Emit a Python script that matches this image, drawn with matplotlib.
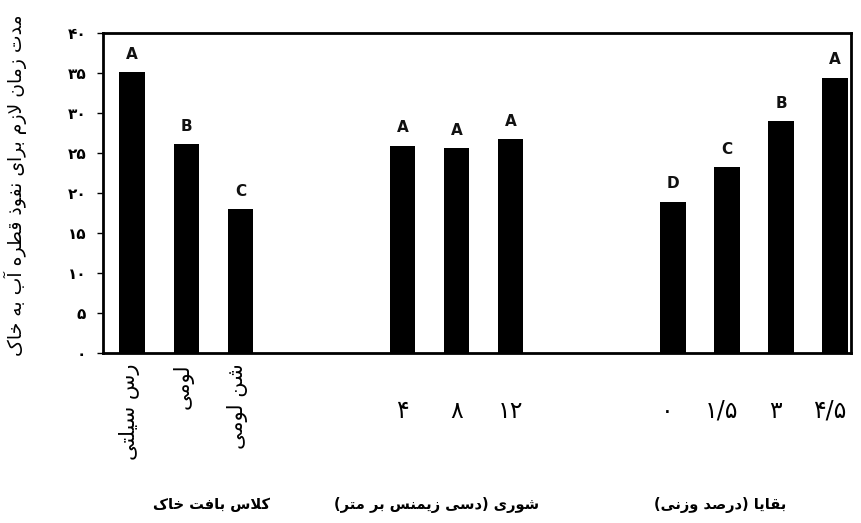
import matplotlib
matplotlib.use("Agg")
import matplotlib.pyplot as plt
import matplotlib.transforms as mtransforms

# ---------------- data ----------------
texture_labels = ["رس سیلتی", "لومی", "شن لومی"]
texture_values = [35.1, 26.1, 18.0]
texture_letters = ["A", "B", "C"]

salinity_labels = ["۴", "۸", "۱۲"]
salinity_values = [25.9, 25.6, 26.7]
salinity_letters = ["A", "A", "A"]

residue_labels = ["۰", "۱/۵", "۳", "۴/۵"]
residue_values = [18.9, 23.2, 29.0, 34.4]
residue_letters = ["D", "C", "B", "A"]

group_titles = ["کلاس بافت خاک", "شوری (دسی زیمنس بر متر)", "بقایا (درصد وزنی)"]
y_label = "مدت زمان لازم برای نفوذ قطره آب به خاک"
y_ticks = [0, 5, 10, 15, 20, 25, 30, 35, 40]

# ---------------- simple Persian shaping ----------------
FORMS = {  # isolated, final, initial, medial
    'ا': ('\uFE8D', '\uFE8E', None, None),
    'آ': ('\uFE81', '\uFE82', None, None),
    'ب': ('\uFE8F', '\uFE90', '\uFE91', '\uFE92'),
    'ت': ('\uFE95', '\uFE96', '\uFE97', '\uFE98'),
    'خ': ('\uFEA5', '\uFEA6', '\uFEA7', '\uFEA8'),
    'د': ('\uFEA9', '\uFEAA', None, None),
    'ذ': ('\uFEAB', '\uFEAC', None, None),
    'ر': ('\uFEAD', '\uFEAE', None, None),
    'ز': ('\uFEAF', '\uFEB0', None, None),
    'س': ('\uFEB1', '\uFEB2', '\uFEB3', '\uFEB4'),
    'ش': ('\uFEB5', '\uFEB6', '\uFEB7', '\uFEB8'),
    'ص': ('\uFEB9', '\uFEBA', '\uFEBB', '\uFEBC'),
    'ط': ('\uFEC1', '\uFEC2', '\uFEC3', '\uFEC4'),
    'ف': ('\uFED1', '\uFED2', '\uFED3', '\uFED4'),
    'ق': ('\uFED5', '\uFED6', '\uFED7', '\uFED8'),
    'ل': ('\uFEDD', '\uFEDE', '\uFEDF', '\uFEE0'),
    'م': ('\uFEE1', '\uFEE2', '\uFEE3', '\uFEE4'),
    'ن': ('\uFEE5', '\uFEE6', '\uFEE7', '\uFEE8'),
    'ه': ('\uFEE9', '\uFEEA', '\uFEEB', '\uFEEC'),
    'و': ('\uFEED', '\uFEEE', None, None),
    'ی': ('\uFBFC', '\uFBFD', '\uFBFE', '\uFBFF'),
    'ک': ('\uFB8E', '\uFB8F', '\uFB90', '\uFB91'),
}


def dual(c):
    return c in FORMS and FORMS[c][2] is not None


def shape(text):
    out = []
    chars = list(text)
    i = 0
    n = len(chars)
    while i < n:
        c = chars[i]
        if c not in FORMS:
            out.append(c)
            i += 1
            continue
        prev_join = i > 0 and dual(chars[i - 1])
        if c == 'ل' and i + 1 < n and chars[i + 1] in ('ا', 'آ'):
            if chars[i + 1] == 'ا':
                out.append('\uFEFC' if prev_join else '\uFEFB')
            else:
                out.append('\uFEF6' if prev_join else '\uFEF5')
            i += 2
            continue
        next_join = dual(c) and i + 1 < n and chars[i + 1] in FORMS
        iso, fin, ini, med = FORMS[c]
        if prev_join and next_join:
            out.append(med)
        elif prev_join:
            out.append(fin)
        elif next_join:
            out.append(ini)
        else:
            out.append(iso)
        i += 1
    vis = ''.join(reversed(out))
    swap = {'(': ')', ')': '('}
    return ''.join(swap.get(ch, ch) for ch in vis)


def fa_digits(v):
    return str(v).translate(str.maketrans("0123456789", "۰۱۲۳۴۵۶۷۸۹"))


# ---------------- plot ----------------
plt.rcParams['font.family'] = ['DejaVu Sans']
fig = plt.figure(figsize=(8.62, 5.23), dpi=100)
ax = fig.add_axes([0.1195, 0.325, 0.868, 0.612])

groups = [
    (texture_labels, texture_values, texture_letters),
    (salinity_labels, salinity_values, salinity_letters),
    (residue_labels, residue_values, residue_letters),
]
gap = 3
start = 0
group_positions = []
for labels, values, letters in groups:
    pos = [start + k for k in range(len(values))]
    group_positions.append(pos)
    ax.bar(pos, values, width=0.47, color='black')
    for p, v, l in zip(pos, values, letters):
        ax.text(p, v + 1.3, l, ha='center', va='bottom', fontsize=11,
                fontweight='bold', color='#111111')
    start = pos[-1] + gap

ax.set_xlim(-0.54, 13.3)
ax.set_ylim(0, 40)
ax.set_yticks(y_ticks)
ax.set_yticklabels([fa_digits(t) for t in y_ticks], fontsize=11,
                   fontweight='bold')
ax.tick_params(axis='y', direction='out', length=4, width=1, pad=8)
ax.set_xticks([])
for s in ax.spines.values():
    s.set_linewidth(2)

fig.text(0.018, 0.645, shape(y_label), rotation=90, ha='center', va='center',
         fontsize=13.5)

trans = mtransforms.blended_transform_factory(ax.transData, fig.transFigure)
# texture labels: vertical, reading top to bottom
for p, lab in zip(group_positions[0], texture_labels):
    ax.text(p - 0.05, 0.305, shape(lab), rotation=90, ha='center', va='top',
            fontsize=15, transform=trans)
for p, lab in zip(group_positions[1], salinity_labels):
    ax.text(p, 0.215, lab, ha='center', va='center', fontsize=17,
            transform=trans)
for p, lab in zip(group_positions[2], residue_labels):
    ax.text(p - 0.1, 0.215, lab, ha='center', va='center', fontsize=17,
            transform=trans)

title_x = [0.245, 0.507, 0.835]
for x, t in zip(title_x, group_titles):
    fig.text(x, 0.035, shape(t), ha='center', va='center', fontsize=10.5,
             fontweight='bold')

fig.savefig("out.png", dpi=100, facecolor='white')
